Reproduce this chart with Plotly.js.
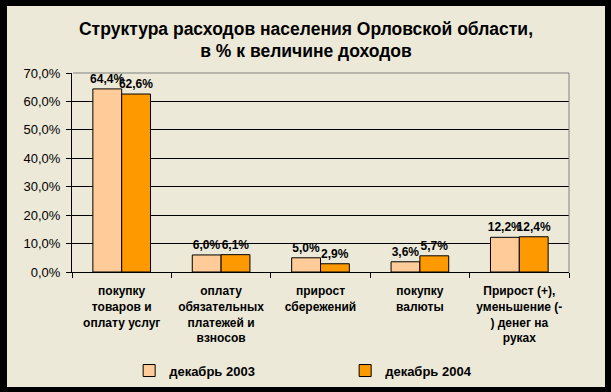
<!DOCTYPE html>
<html>
<head>
<meta charset="utf-8">
<script src="https://cdn.plot.ly/plotly-3.0.1.min.js"></script>
<style>
html,body{margin:0;padding:0;background:#000;width:611px;height:392px;overflow:hidden;}
#chart{position:absolute;left:7px;top:6px;width:598px;height:381px;}
</style>
</head>
<body>
<div id="chart"></div>
<script>
const categories = [
  "покупку<br>товаров и<br>оплату услуг",
  "оплату<br>обязательных<br>платежей и<br>взносов",
  "прирост<br>сбережений",
  "покупку<br>валюты",
  "Прирост (+),<br>уменьшение (-<br>) денег на<br>руках"
];
const series2003 = [64.4, 6.0, 5.0, 3.6, 12.2];
const series2004 = [62.6, 6.1, 2.9, 5.7, 12.4];
const seriesNames = ["декабрь 2003", "декабрь 2004"];
const yTicks = [0, 10, 20, 30, 40, 50, 60, 70];
const yTickText = yTicks.map(v => v.toFixed(1).replace(".", ",") + "%");

function barTrace(name, values, color) {
  return {
    type: "bar", name: name, x: categories, y: values,
    marker: {color: color, line: {color: "#000", width: 1}},
    texttemplate: "%{y:.1f}%", textposition: "outside", constraintext: "none",
    textfont: {family: "Liberation Sans, Arial, sans-serif", size: 12, weight: "bold", color: "#000"},
    cliponaxis: false, hoverinfo: "skip"
  };
}
const data = [
  barTrace(seriesNames[0], series2003, "#FFCC99"),
  barTrace(seriesNames[1], series2004, "#FF9900")
];
const layout = {
  width: 598, height: 381,
  paper_bgcolor: "#ECE9D8", plot_bgcolor: "#ECE9D8",
  margin: {l: 65, r: 36, t: 67, b: 115, autoexpand: false},
  separators: ",.",
  font: {family: "Liberation Sans, Arial, sans-serif", color: "#000"},
  title: {
    text: "Структура расходов населения Орловской области,<br>в % к величине доходов",
    font: {size: 17.5, weight: "bold", color: "#000"},
    x: 0.5, xanchor: "center", y: 0.925, yanchor: "top"
  },
  barmode: "group", bargap: 0.42, bargroupgap: 0,
  xaxis: {
    type: "category", showline: true, linecolor: "#000", linewidth: 1,
    ticks: "outside", tickson: "boundaries", ticklen: 5, tickcolor: "#000",
    tickfont: {size: 12, weight: "bold", color: "#000"},
    ticklabelstandoff: 8, automargin: false,
    showgrid: false, fixedrange: true
  },
  yaxis: {
    range: [0, 70], tickvals: yTicks, ticktext: yTickText,
    showline: true, linecolor: "#000", linewidth: 1,
    ticks: "outside", ticklen: 5, tickcolor: "#000",
    showgrid: true, gridcolor: "#000", gridwidth: 1, zeroline: false,
    tickfont: {size: 13, color: "#000"}, ticklabelstandoff: 3,
    automargin: false, fixedrange: true
  },
  shapes: [
    {type: "line", xref: "paper", yref: "paper", x0: 0.002, x1: 1, y0: 1, y1: 1, line: {color: "#808080", width: 1}},
    {type: "line", xref: "paper", yref: "paper", x0: 1, x1: 1, y0: 0, y1: 1, line: {color: "#808080", width: 1}}
  ],
  showlegend: true,
  legend: {
    orientation: "h", x: 0.115, xanchor: "left", y: -0.42, yanchor: "top",
    font: {size: 13, weight: "bold", color: "#000"},
    bgcolor: "rgba(0,0,0,0)", entrywidth: 171, entrywidthmode: "pixels",
    itemclick: false, itemdoubleclick: false
  }
};
Plotly.newPlot("chart", data, layout, {displayModeBar: false, staticPlot: true});
</script>
</body>
</html>
